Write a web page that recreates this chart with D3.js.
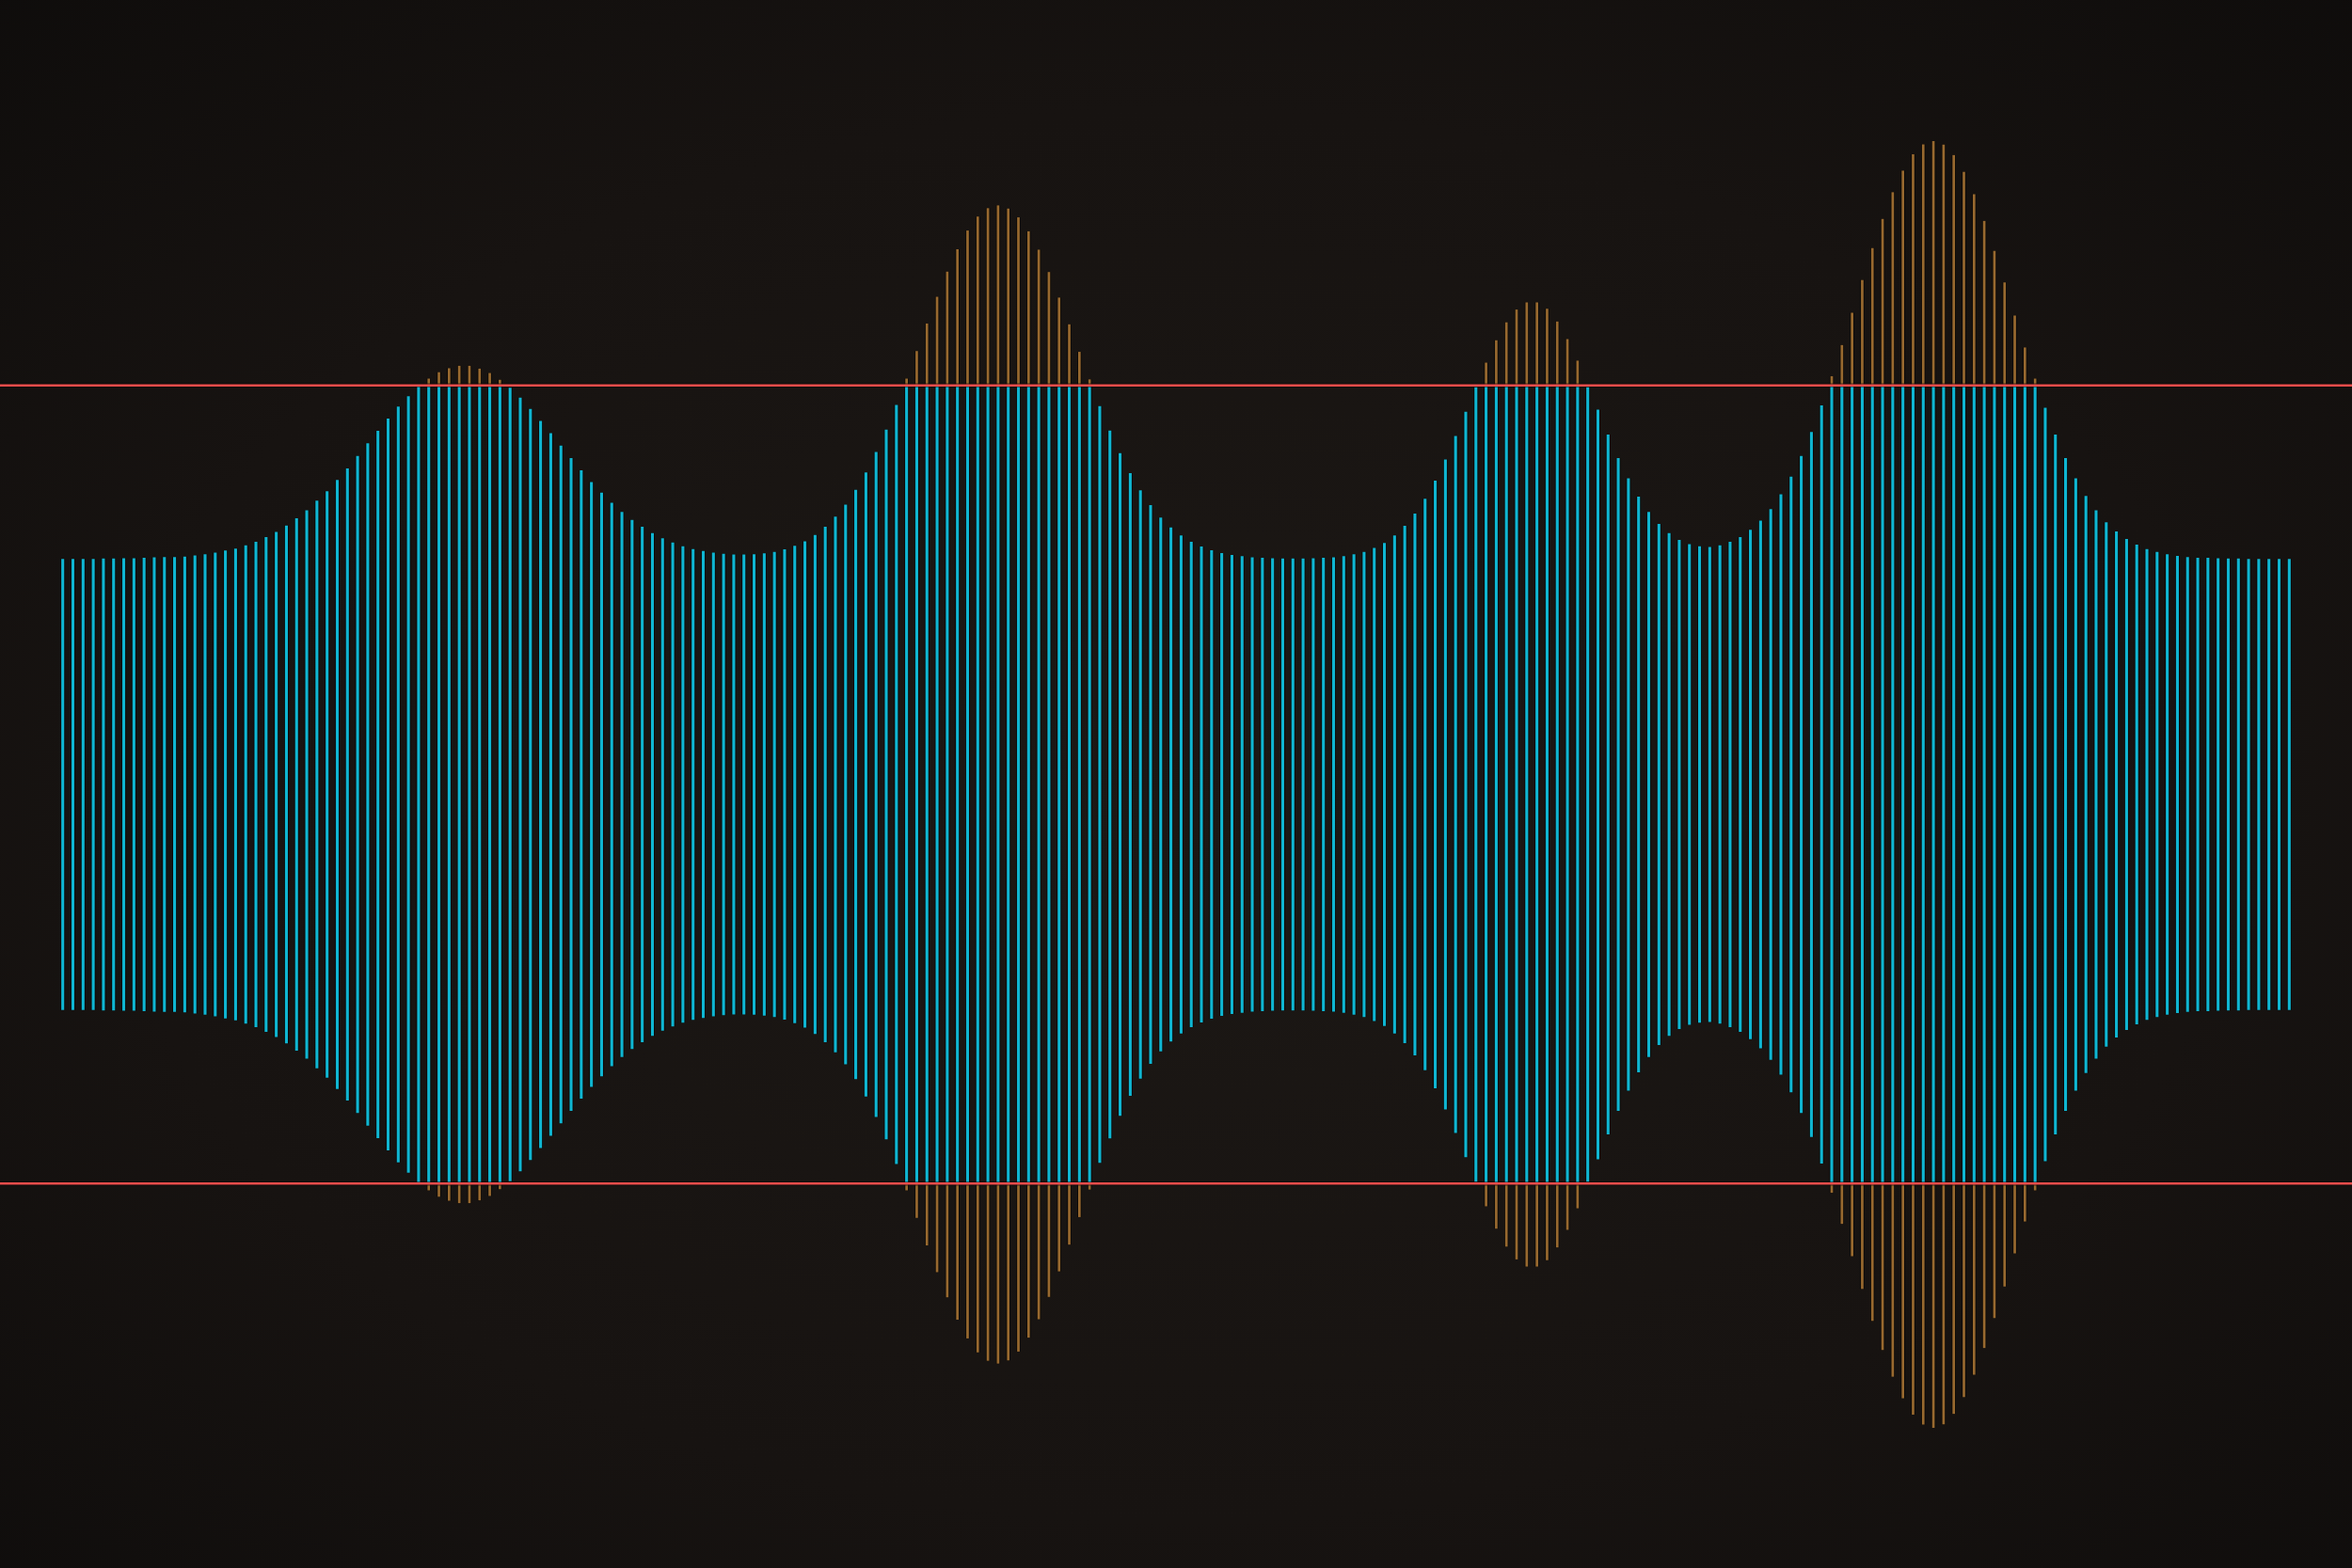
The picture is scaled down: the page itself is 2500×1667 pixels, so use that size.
<!DOCTYPE html>
<html>
<head>
<meta charset="utf-8">
<script src="https://cdn.jsdelivr.net/npm/d3@7"></script>
<style>
  html, body { margin: 0; padding: 0; background: #141110; }
  svg { display: block; }
</style>
</head>
<body>
<svg id="chart" width="2500" height="1667"></svg>
<script>
// Amplitude of each sample, in percent of the clipping level (clip level = 100)
const amplitudes = [
  56.5, 56.5, 56.5, 56.5, 56.6, 56.6, 56.7, 56.7, 56.8, 56.9,
  57.0, 57.0, 57.1, 57.4, 57.7, 58.1, 58.6, 59.1, 59.9, 60.8,
  62.0, 63.3, 64.9, 66.7, 68.7, 71.1, 73.5, 76.3, 79.2, 82.3,
  85.5, 88.6, 91.7, 94.7, 97.3, 99.8, 101.7, 103.3, 104.3, 104.9,
  104.9, 104.2, 103.1, 101.4, 99.4, 96.9, 94.1, 91.1, 88.0, 84.9,
  81.8, 78.7, 75.8, 73.1, 70.6, 68.3, 66.3, 64.6, 63.0, 61.7,
  60.6, 59.7, 59.0, 58.5, 58.1, 57.8, 57.6, 57.6, 57.7, 57.9,
  58.3, 58.9, 59.8, 60.9, 62.5, 64.6, 67.1, 70.1, 73.8, 78.2,
  83.3, 88.9, 95.1, 101.7, 108.6, 115.5, 122.2, 128.5, 134.1, 138.8,
  142.3, 144.4, 145.1, 144.3, 142.1, 138.6, 134.0, 128.4, 122.0, 115.3,
  108.4, 101.5, 94.8, 88.7, 83.0, 78.0, 73.7, 70.0, 66.9, 64.4,
  62.4, 60.8, 59.6, 58.7, 58.0, 57.5, 57.2, 56.9, 56.8, 56.7,
  56.6, 56.6, 56.6, 56.7, 56.8, 56.9, 57.2, 57.7, 58.3, 59.3,
  60.5, 62.4, 64.8, 67.9, 71.6, 76.1, 81.4, 87.3, 93.4, 99.6,
  105.7, 111.3, 115.8, 119.0, 120.8, 120.8, 119.2, 116.0, 111.6, 106.2,
  99.6, 93.9, 87.7, 81.8, 76.7, 72.1, 68.3, 65.3, 63.0, 61.3,
  60.2, 59.7, 59.5, 59.9, 60.8, 62.0, 63.8, 66.1, 69.0, 72.7,
  77.1, 82.3, 88.3, 95.0, 102.3, 110.1, 118.2, 126.4, 134.4, 141.7,
  148.4, 153.8, 157.9, 160.4, 161.2, 160.3, 157.7, 153.5, 147.9, 141.2,
  133.7, 125.8, 117.5, 109.5, 101.7, 94.4, 87.7, 81.8, 76.7, 72.3,
  68.7, 65.7, 63.4, 61.5, 60.1, 59.0, 58.3, 57.7, 57.3, 57.0,
  56.8, 56.8, 56.7, 56.6, 56.6, 56.5, 56.5, 56.5, 56.5, 56.5
];
const sampleIndex = amplitudes.map((d, i) => i);
const clipLevel = 100;
const clipLines = [clipLevel, -clipLevel];

const W = 2500, H = 1667;
const centerY = 834;
const clipPx = 424.3;

const svg = d3.select("#chart");

// background with soft vignette
const defs = svg.append("defs");
const grad = defs.append("radialGradient").attr("id", "bg")
  .attr("cx", "50%").attr("cy", "52%").attr("r", "75%");
grad.append("stop").attr("offset", "0%").attr("stop-color", "#1c1815");
grad.append("stop").attr("offset", "60%").attr("stop-color", "#171311");
grad.append("stop").attr("offset", "100%").attr("stop-color", "#0e0c0b");
svg.append("rect").attr("width", W).attr("height", H).attr("fill", "url(#bg)");

const x = d3.scalePoint().domain(sampleIndex).range([66.7, 2433.3]);
const y = d3.scaleLinear().domain([-clipLevel, clipLevel])
  .range([centerY + clipPx, centerY - clipPx]);

const data = sampleIndex.map(i => ({ i, a: amplitudes[i] }));
const over = data.filter(d => d.a > clipLevel);
const g = svg.append("g");

function segs(sel, y1f, y2f, color, width, shadowW) {
  const gg = g.append("g");
  gg.selectAll("line.s").data(sel).join("line").attr("class", "s")
    .attr("x1", d => x(d.i)).attr("x2", d => x(d.i))
    .attr("y1", y1f).attr("y2", y2f)
    .attr("stroke", "#070504").attr("stroke-opacity", 0.75)
    .attr("stroke-width", shadowW);
  gg.selectAll("line.c").data(sel).join("line").attr("class", "c")
    .attr("x1", d => x(d.i)).attr("x2", d => x(d.i))
    .attr("y1", y1f).attr("y2", y2f)
    .attr("stroke", color)
    .attr("stroke-width", width);
}

// overshoot (top and bottom)
segs(over, d => y(clipLevel), d => y(d.a), "#98692f", 2.7, 4.4);
segs(over, d => y(-clipLevel), d => y(-d.a), "#98692f", 2.7, 4.4);
// main cyan body, clipped at clip level
segs(data, d => y(Math.min(d.a, clipLevel)), d => y(-Math.min(d.a, clipLevel)), "#0fb6d2", 3.1, 4.9);

// clip lines
const lg = svg.append("g");
lg.selectAll("line.sh").data(clipLines).join("line").attr("class", "sh")
  .attr("x1", 0).attr("x2", W)
  .attr("y1", d => y(d)).attr("y2", d => y(d))
  .attr("stroke", "#0a0706").attr("stroke-opacity", 0.6).attr("stroke-width", 4.2);
lg.selectAll("line.r").data(clipLines).join("line").attr("class", "r")
  .attr("x1", 0).attr("x2", W)
  .attr("y1", d => y(d)).attr("y2", d => y(d))
  .attr("stroke", "#ea4d4b").attr("stroke-width", 2.4);
</script>
</body>
</html>
